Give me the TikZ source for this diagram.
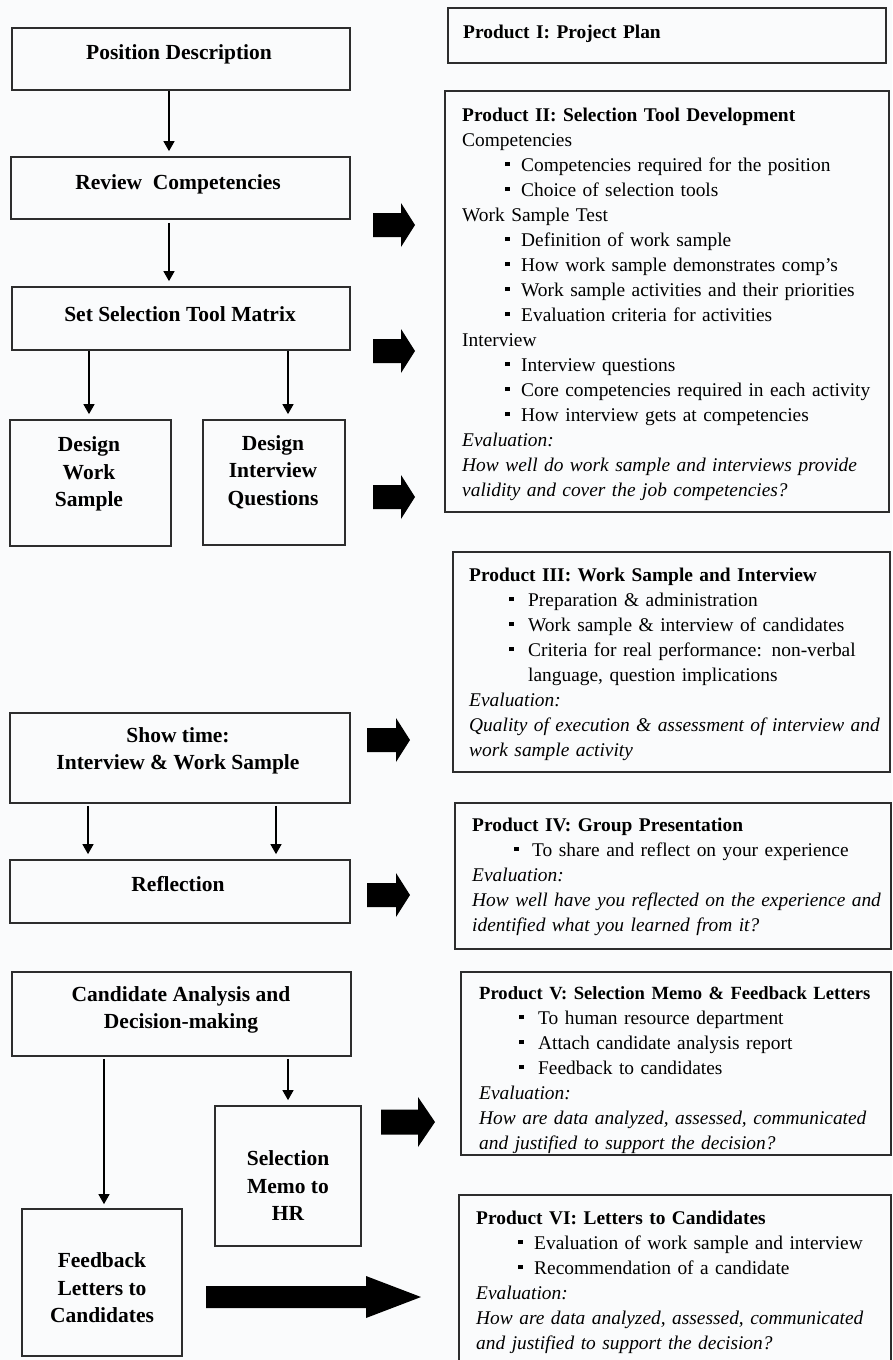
\documentclass[tikz,border=0pt]{standalone}
\usepackage{fontspec}
\setmainfont{Liberation Serif}
\usetikzlibrary{arrows.meta}
\newlength\bindent
\newlength\bgap
\newcommand\myitem[1]{\hspace*{\bindent}\makebox[\bgap][l]{\rule[5pt]{4.5pt}{4.5pt}}#1}
\newcommand\blockarr[6]{\fill[black] (#1,#3-#4) -- (#6,#3-#4) -- (#6,#3-#5) -- (#2,#3) -- (#6,#3+#5) -- (#6,#3+#4) -- (#1,#3+#4) -- cycle;}
\definecolor{bg}{RGB}{250,251,252}
\definecolor{ln}{RGB}{45,45,45}
\begin{document}
\begin{tikzpicture}[x=1pt,y=-1pt,
  box/.style={draw=ln, line width=1.7pt, rectangle, inner sep=0pt},
  lbl/.style={font=\bfseries\fontsize{21.5}{27.5}\selectfont, align=center, inner sep=0pt},
  ptext/.style={font=\fontsize{19.4}{25}\selectfont, inner sep=0pt, text width=500pt, align=left, anchor=north west},
  conn/.style={draw=black, line width=1.3pt, -{Triangle[length=10pt,width=11pt]}, shorten >=5pt}]
\fill[bg] (0,0) rectangle (892,1360);
\useasboundingbox (0,0) rectangle (892,1360);

% left boxes
\node[box, minimum width=338pt, minimum height=62pt] (pd) at (181,59) {};
\node[box, minimum width=339pt, minimum height=62pt] (rc) at (180.5,188) {};
\node[box, minimum width=338pt, minimum height=63pt] (ss) at (181,318.5) {};
\node[box, minimum width=161pt, minimum height=126pt] (dws) at (90.5,483) {};
\node[box, minimum width=142pt, minimum height=125pt] (diq) at (274,482.5) {};
\node[box, minimum width=340pt, minimum height=90pt] (st) at (180,758) {};
\node[box, minimum width=340pt, minimum height=63pt] (rf) at (180,891.5) {};
\node[box, minimum width=339pt, minimum height=84pt] (ca) at (181.5,1014) {};
\node[box, minimum width=146pt, minimum height=140pt] (sm) at (288,1176) {};
\node[box, minimum width=160pt, minimum height=147pt] (fl) at (102,1282.5) {};

% left labels
\node[lbl] (lpd) at (179,54) {Position Description};
\node[lbl] (lrc) at (178,184) {Review\ \ Competencies};
\node[lbl] (lss) at (180,314) {Set Selection Tool Matrix};
\node[lbl] (ldws) at (89,474) {Design\\Work\\Sample};
\node[lbl] (ldiq) at (273,472) {Design\\Interview\\Questions};
\node[lbl] (lst) at (178,751) {Show time:\\Interview \& Work Sample};
\node[lbl] (lrf) at (178,884) {Reflection};
\node[lbl] (lca) at (181,1010) {Candidate Analysis and\\Decision-making};
\node[lbl] (lsm) at (288,1186) {Selection\\Memo to\\HR};
\node[lbl] (lfl) at (102,1288) {Feedback\\Letters to\\Candidates};

% connector x positions
\coordinate (c169) at (169,0);
\coordinate (c89) at (89,0);
\coordinate (c288) at (288,0);
\coordinate (c88) at (88,0);
\coordinate (c276) at (276,0);
\coordinate (c104) at (104,0);

\draw[conn] (pd.south -| c169) -- (rc.north -| c169);
\draw[conn, shorten <=3pt] (rc.south -| c169) -- (ss.north -| c169);
\draw[conn] (ss.south -| c89) -- (dws.north -| c89);
\draw[conn] (ss.south -| c288) -- (diq.north -| c288);
\draw[conn, shorten <=2pt] (st.south -| c88) -- (rf.north -| c88);
\draw[conn, shorten <=2pt] (st.south -| c276) -- (rf.north -| c276);
\draw[conn, shorten <=2pt, shorten >=4pt] (ca.south -| c104) -- (fl.north -| c104);
\draw[conn, shorten <=2pt] (ca.south -| c288) -- (sm.north -| c288);

% block arrows
\blockarr{373}{415}{225}{12}{22}{401}
\blockarr{373}{415}{351}{12}{22}{401}
\blockarr{373}{415}{497}{12}{22}{401}
\blockarr{367}{410}{740}{12}{22}{396}
\blockarr{367}{410}{895}{12}{22}{396}
\blockarr{381}{435}{1122}{12.5}{25}{418}
\blockarr{206}{421}{1297}{11}{21}{366}

% right boxes
\node[box, minimum width=438pt, minimum height=55pt] (p1) at (667,35.5) {};
\node[box, minimum width=444pt, minimum height=421pt] (p2) at (667,301.5) {};
\node[box, minimum width=437pt, minimum height=220pt] (p3) at (671.5,662) {};
\node[box, minimum width=436pt, minimum height=146pt] (p4) at (673,876) {};
\node[box, minimum width=430pt, minimum height=183pt] (p5) at (676,1063.5) {};
\node[box, minimum width=432pt, minimum height=170pt] (p6) at (675,1280) {};

% right texts
\node[ptext] (t1) at (463,20.5) {\strut\textbf{Product I: Project Plan}};
\node[ptext] (t2) at (462,103.5) {\setlength\bindent{43pt}\setlength\bgap{16pt}\strut\textbf{Product II: Selection Tool Development}\\
Competencies\\
\myitem{Competencies required for the position}\\
\myitem{Choice of selection tools}\\
Work Sample Test\\
\myitem{Definition of work sample}\\
\myitem{How work sample demonstrates comp's}\\
\myitem{Work sample activities and their priorities}\\
\myitem{Evaluation criteria for activities}\\
Interview\\
\myitem{Interview questions}\\
\myitem{Core competencies required in each activity}\\
\myitem{How interview gets at competencies}\\
\textit{Evaluation:}\\
\textit{How well do work sample and interviews provide}\\
\textit{validity and cover the job competencies?}};
\node[ptext] (t3) at (469,563.5) {\setlength\bindent{40pt}\setlength\bgap{19pt}\strut\textbf{Product III: Work Sample and Interview}\\
\myitem{Preparation \& administration}\\
\myitem{Work sample \& interview of candidates}\\
\myitem{Criteria for real performance: non-verbal}\\
\hspace*{59pt}language, question implications\\
\textit{Evaluation:}\\
\textit{Quality of execution \& assessment of interview and}\\
\textit{work sample activity}};
\node[ptext] (t4) at (472,813.5) {\setlength\bindent{42pt}\setlength\bgap{18pt}\strut\textbf{Product IV: Group Presentation}\\
\myitem{To share and reflect on your experience}\\
\textit{Evaluation:}\\
\textit{How well have you reflected on the experience and}\\
\textit{identified what you learned from it?}};
\node[ptext] (t5) at (479,981.5) {\setlength\bindent{40pt}\setlength\bgap{19pt}\strut{\fontsize{18.6}{25}\selectfont\textbf{Product V: Selection Memo \& Feedback Letters}}\\
\myitem{To human resource department}\\
\myitem{Attach candidate analysis report}\\
\myitem{Feedback to candidates}\\
\textit{Evaluation:}\\
\textit{How are data analyzed, assessed, communicated}\\
\textit{and justified to support the decision?}};
\node[ptext] (t6) at (476,1206.5) {\setlength\bindent{42pt}\setlength\bgap{16pt}\strut\textbf{Product VI: Letters to Candidates}\\
\myitem{Evaluation of work sample and interview}\\
\myitem{Recommendation of a candidate}\\
\textit{Evaluation:}\\
\textit{How are data analyzed, assessed, communicated}\\
\textit{and justified to support the decision?}};
\end{tikzpicture}
\end{document}
